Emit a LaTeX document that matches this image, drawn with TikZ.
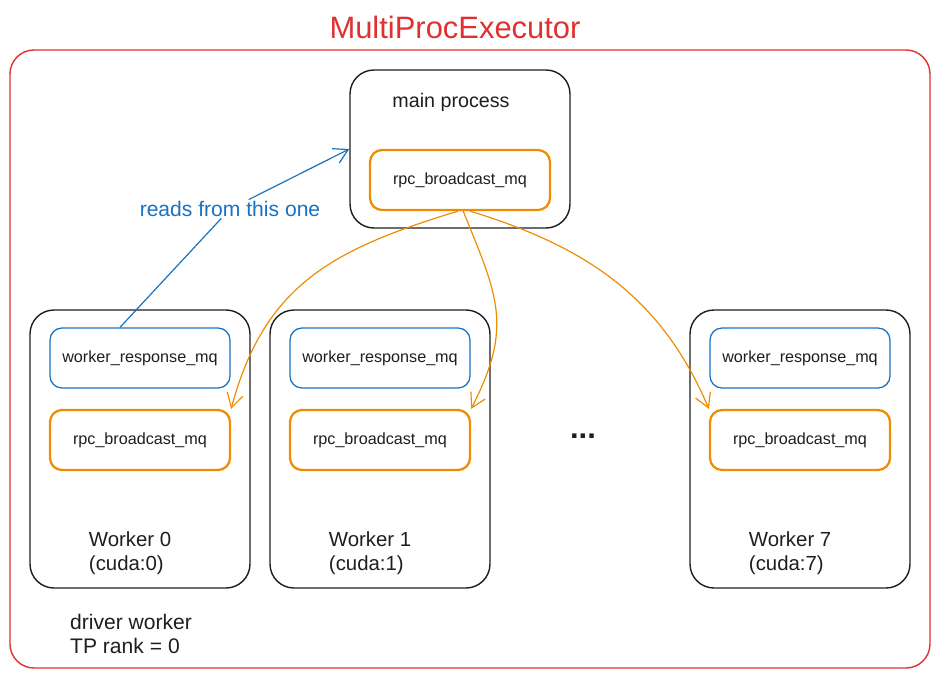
\documentclass[tikz,border=0pt]{standalone}
\usepackage{fontspec}
\setmainfont{Liberation Sans}
\usetikzlibrary{arrows.meta, positioning, calc}
\definecolor{xred}{RGB}{224,49,49}
\definecolor{xblue}{RGB}{25,113,194}
\definecolor{xorange}{RGB}{240,140,0}
\definecolor{xblack}{RGB}{30,30,30}

\begin{document}
\begin{tikzpicture}[
    every node/.style={font=\fontsize{11.5}{13}\selectfont, text=xblack},
    frame/.style={rectangle, draw=xred, line width=1pt, rounded corners=0.6cm, minimum width=23cm, minimum height=15.45cm},
    procbox/.style={rectangle, draw=xblack, line width=1pt, rounded corners=0.6cm, minimum width=5.5cm},
    respmq/.style={rectangle, draw=xblue, line width=0.9pt, rounded corners=0.3cm, minimum width=4.5cm, minimum height=1.5cm},
    rpcmq/.style={rectangle, draw=xorange, line width=1.6pt, rounded corners=0.3cm, minimum width=4.5cm, minimum height=1.5cm},
    biglabel/.style={font=\fontsize{14.5}{16.5}\selectfont, align=left},
    arrow/.style={-{Straight Barb[length=3.5mm, width=4mm]}, line width=0.85pt}
]
\useasboundingbox (0,0) rectangle (23.5,-17);

\node[frame] (exec) at (11.75,-8.975) {};
\node[font=\fontsize{22}{26}\selectfont, text=xred] (title) at (11.375,-0.675) {MultiProcExecutor};

\node[procbox, minimum height=3.95cm] (main) at (11.5,-3.725) {};
\node[font=\fontsize{14}{17}\selectfont] (mainlbl) at (11.275,-2.55) {main process};
\node[rpcmq] (mrpc) at (11.5,-4.5) {rpc\_broadcast\_mq};

\foreach \x/\i in {3.5/0, 9.5/1, 20/7} {
    \node[procbox, minimum height=6.95cm] (w\i) at (\x,-11.225) {};
    \node[respmq] (resp\i) at (\x,-8.95) {worker\_response\_mq};
    \node[rpcmq] (rpc\i) at (\x,-11) {rpc\_broadcast\_mq};
    \node[biglabel, anchor=west] (wlbl\i) at (\x-1.4,-13.83) {Worker \i\\(cuda:\i)};
}

\node[font=\fontsize{22}{24}\selectfont] (dots) at (14.575,-10.9) {\textbf{...}};
\node[biglabel, anchor=west, font=\fontsize{15}{17}\selectfont] (driver) at (1.63,-15.85) {driver worker\\TP rank = 0};

\node[font=\fontsize{15}{18}\selectfont, text=xblue, inner sep=1pt] (readslbl) at (5.75,-5.225) {reads from this one};
\draw[line width=0.85pt, xblue] ([xshift=-0.5cm]resp0.north) -- (readslbl);
\draw[arrow, xblue] (readslbl) -- (main.west);

\draw[arrow, xorange] ([xshift=-0.05cm]mrpc.south) to[out=197, in=75, looseness=1.1] (rpc0.north east);
\draw[arrow, xorange] ([xshift=0.08cm]mrpc.south) to[out=-68, in=63, looseness=1.2] (rpc1.north east);
\draw[arrow, xorange] ([xshift=0.25cm]mrpc.south) to[out=-17, in=113] (rpc7.north west);

\end{tikzpicture}
\end{document}
